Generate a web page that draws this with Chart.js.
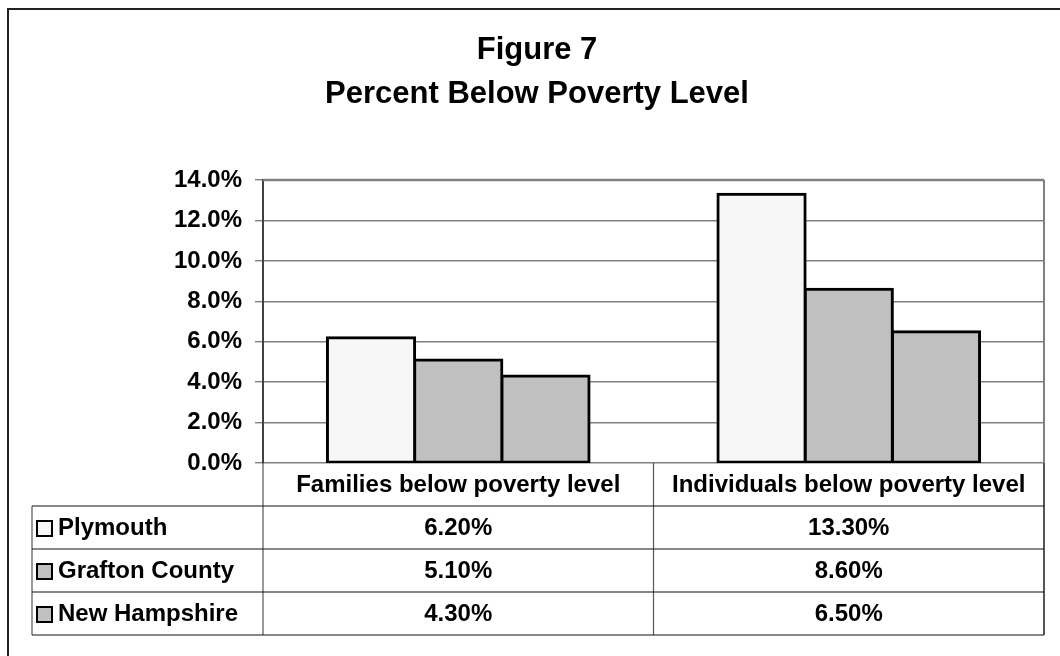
<!DOCTYPE html>
<html lang="en">
<head>
  <meta charset="UTF-8" />
  <title>Figure 7 - Percent Below Poverty Level</title>
  <script src="https://cdn.jsdelivr.net/npm/chart.js"></script>
  <style>
    body {
      margin: 0;
      padding: 0;
      background: #ffffff;
    }
    canvas {
      display: block;
    }
  </style>
</head>
<body>
  <canvas id="povertyChart" width="1060" height="656"></canvas>

  <script>
    // Data
    const categories = ['Families below poverty level', 'Individuals below poverty level'];
    const seriesNames = ['Plymouth', 'Grafton County', 'New Hampshire'];
    const plymouth = [6.2, 13.3];
    const graftonCounty = [5.1, 8.6];
    const newHampshire = [4.3, 6.5];
    const yMin = 0;
    const yMax = 14;
    const yStep = 2;

    const fontFamily = '"Liberation Sans", Arial, Helvetica, sans-serif';
    const seriesColors = ['#f7f7f7', '#c0c0c0', '#c0c0c0'];

    // White background + outer chart frame (only top/left edges are inside the picture)
    const framePlugin = {
      id: 'frame',
      beforeDraw(chart) {
        const ctx = chart.ctx;
        ctx.save();
        ctx.fillStyle = '#ffffff';
        ctx.fillRect(0, 0, chart.width, chart.height);
        ctx.strokeStyle = '#222222';
        ctx.lineWidth = 2;
        ctx.strokeRect(8, 9, chart.width + 40, chart.height + 40);
        ctx.restore();
      },
      afterDatasetsDraw(chart) {
        // plot area border: top and right in gray
        const { top, right, left, bottom } = chart.chartArea;
        const ctx = chart.ctx;
        ctx.save();
        ctx.strokeStyle = '#808080';
        ctx.lineWidth = 2.5;
        ctx.beginPath();
        ctx.moveTo(left, top);
        ctx.lineTo(right, top);
        ctx.stroke();
        ctx.lineWidth = 2;
        ctx.beginPath();
        ctx.moveTo(right, top);
        ctx.lineTo(right, bottom);
        ctx.stroke();
        ctx.restore();
      }
    };

    // Data table under the plot (Excel style)
    const dataTablePlugin = {
      id: 'dataTable',
      afterDraw(chart) {
        const ctx = chart.ctx;
        const { left, right, bottom } = chart.chartArea;
        const xScale = chart.scales.x;
        const rowH = 43;
        const tableLeft = 32;
        const nRows = chart.data.datasets.length;
        const tableBottom = bottom + rowH * (nRows + 1);
        const colCenters = categories.map((c, i) => xScale.getPixelForValue(i));
        const dividers = [left];
        for (let i = 0; i < colCenters.length - 1; i++) {
          dividers.push((colCenters[i] + colCenters[i + 1]) / 2);
        }
        dividers.push(right);

        ctx.save();
        ctx.font = 'bold 24px ' + fontFamily;
        ctx.fillStyle = '#000000';
        ctx.textBaseline = 'middle';

        // vertical lines
        ctx.strokeStyle = '#555555';
        ctx.lineWidth = 1.2;
        dividers.forEach((x, i) => {
          ctx.beginPath();
          ctx.moveTo(x, bottom);
          ctx.lineTo(x, tableBottom);
          if (i === dividers.length - 1) ctx.lineWidth = 2;
          ctx.stroke();
        });
        ctx.lineWidth = 1.2;
        ctx.beginPath();
        ctx.moveTo(tableLeft, bottom + rowH);
        ctx.lineTo(tableLeft, tableBottom);
        ctx.stroke();

        // horizontal lines
        ctx.strokeStyle = '#111111';
        ctx.lineWidth = 1.2;
        for (let r = 1; r <= nRows + 1; r++) {
          const y = bottom + rowH * r;
          ctx.beginPath();
          ctx.moveTo(tableLeft, y);
          ctx.lineTo(right, y);
          ctx.stroke();
        }

        // header (category names)
        ctx.textAlign = 'center';
        categories.forEach((c, i) => {
          ctx.fillText(c, colCenters[i], bottom + rowH / 2 + 1);
        });

        // rows
        chart.data.datasets.forEach((ds, r) => {
          const yMid = bottom + rowH * (r + 1) + rowH / 2 + 1;
          // legend key
          const keySize = 15;
          ctx.fillStyle = ds.backgroundColor;
          ctx.fillRect(tableLeft + 5, yMid - keySize / 2, keySize, keySize);
          ctx.strokeStyle = '#000000';
          ctx.lineWidth = 2;
          ctx.strokeRect(tableLeft + 5, yMid - keySize / 2, keySize, keySize);

          ctx.fillStyle = '#000000';
          ctx.textAlign = 'left';
          ctx.fillText(ds.label, tableLeft + 26, yMid);

          ctx.textAlign = 'center';
          ds.data.forEach((v, i) => {
            ctx.fillText(v.toFixed(2) + '%', colCenters[i], yMid);
          });
        });
        ctx.restore();
      }
    };

    const seriesData = [plymouth, graftonCounty, newHampshire];

    const ctx = document.getElementById('povertyChart').getContext('2d');
    const povertyChart = new Chart(ctx, {
      type: 'bar',
      data: {
        labels: categories,
        datasets: seriesNames.map((name, i) => ({
          label: name,
          data: seriesData[i],
          backgroundColor: seriesColors[i],
          borderColor: '#000000',
          borderWidth: 3,
          borderSkipped: false,
          inflateAmount: 1.5,
          barPercentage: 1,
          categoryPercentage: 0.67
        }))
      },
      options: {
        responsive: false,
        devicePixelRatio: 1,
        animation: false,
        layout: {
          padding: { left: 30, right: 16, top: 0, bottom: 193 }
        },
        plugins: {
          legend: { display: false },
          tooltip: { enabled: false },
          title: {
            display: true,
            text: ['Figure 7', 'Percent Below Poverty Level'],
            color: '#000000',
            font: { family: fontFamily, size: 31, weight: 'bold', lineHeight: 1.42 },
            padding: { top: 28, bottom: 64 }
          }
        },
        scales: {
          x: {
            ticks: { display: false },
            grid: { display: false },
            border: { display: false },
            afterFit(scale) { scale.height = 0; }
          },
          y: {
            min: yMin,
            max: yMax,
            ticks: {
              stepSize: yStep,
              color: '#000000',
              padding: 13,
              font: { family: fontFamily, size: 24, weight: 'bold' },
              callback: (v) => v.toFixed(1) + '%'
            },
            grid: {
              color: '#808080',
              lineWidth: 1.4,
              tickLength: 8,
              drawTicks: true
            },
            border: { display: true, color: '#404040', width: 2 },
            afterFit(scale) { scale.width = 233; }
          }
        }
      },
      plugins: [framePlugin, dataTablePlugin]
    });
  </script>
</body>
</html>
